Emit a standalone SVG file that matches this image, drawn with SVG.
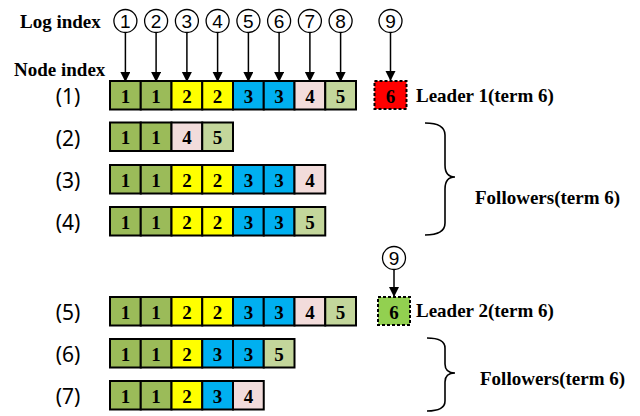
<svg xmlns="http://www.w3.org/2000/svg" width="640" height="416" viewBox="0 0 640 416">
<style>
.lbl{font-family:"Liberation Serif",serif;font-weight:bold;font-size:19px;fill:#000}
.row{font-family:"Noto Sans","Liberation Sans",sans-serif;font-size:21px;fill:#000;text-anchor:middle}
.cell{stroke:#000;stroke-width:2}
.num{font-family:"Liberation Serif",serif;font-weight:bold;font-size:19px;fill:#000;text-anchor:middle}
.c1{fill:#9BBB59}.c2{fill:#FFFF00}.c3{fill:#00B0F0}.c4{fill:#F2DCDB}.c5{fill:#C3D69B}
.circ{fill:#fff;stroke:#000;stroke-width:1.3}
.cnum{font-family:"Liberation Sans",sans-serif;font-size:19px;fill:#000;text-anchor:middle}
.arr{stroke:#000;stroke-width:1.5;fill:none}
.brace{stroke:#000;stroke-width:1.6;fill:none}
.dash{stroke:#000;stroke-width:2;stroke-dasharray:3,2}
</style>
<defs>
<marker id="ah" markerUnits="userSpaceOnUse" markerWidth="10" markerHeight="12" refX="9" refY="5" orient="auto">
<path d="M0,0 L10,5 L0,10 z" fill="#000"/>
</marker>
</defs>
<rect width="640" height="416" fill="#fff"/>
<text class="lbl" x="20" y="28">Log index</text>
<text class="lbl" x="14" y="76">Node index</text>

<g id="connectors">
<line class="arr" x1="125.4" y1="32.5" x2="125.4" y2="81" marker-end="url(#ah)"/>
<line class="arr" x1="156.1" y1="32.5" x2="156.1" y2="81" marker-end="url(#ah)"/>
<line class="arr" x1="186.9" y1="32.5" x2="186.9" y2="81" marker-end="url(#ah)"/>
<line class="arr" x1="217.6" y1="32.5" x2="217.6" y2="81" marker-end="url(#ah)"/>
<line class="arr" x1="248.4" y1="32.5" x2="248.4" y2="81" marker-end="url(#ah)"/>
<line class="arr" x1="279.1" y1="32.5" x2="279.1" y2="81" marker-end="url(#ah)"/>
<line class="arr" x1="309.9" y1="32.5" x2="309.9" y2="81" marker-end="url(#ah)"/>
<line class="arr" x1="340.6" y1="32.5" x2="340.6" y2="81" marker-end="url(#ah)"/>
<line class="arr" x1="390.5" y1="32.5" x2="390.5" y2="80" marker-end="url(#ah)"/>
<line class="arr" x1="394" y1="269.5" x2="394" y2="296" marker-end="url(#ah)"/>
<path class="brace" d="M425,123 Q445,123 445,135 L445,165 Q445,177 455,177 Q445,177 445,189 L445,223 Q445,235 425,235"/>
<path class="brace" d="M427,338 Q445,338 445,348 L445,364 Q445,373 455,373 Q445,373 445,382 L445,401 Q445,411 427,411"/>
</g>

<g id="log-index">
<circle class="circ" cx="125.4" cy="21" r="11.5"/><text class="cnum" x="125.4" y="28">1</text>
<circle class="circ" cx="156.1" cy="21" r="11.5"/><text class="cnum" x="156.1" y="28">2</text>
<circle class="circ" cx="186.9" cy="21" r="11.5"/><text class="cnum" x="186.9" y="28">3</text>
<circle class="circ" cx="217.6" cy="21" r="11.5"/><text class="cnum" x="217.6" y="28">4</text>
<circle class="circ" cx="248.4" cy="21" r="11.5"/><text class="cnum" x="248.4" y="28">5</text>
<circle class="circ" cx="279.1" cy="21" r="11.5"/><text class="cnum" x="279.1" y="28">6</text>
<circle class="circ" cx="309.9" cy="21" r="11.5"/><text class="cnum" x="309.9" y="28">7</text>
<circle class="circ" cx="340.6" cy="21" r="11.5"/><text class="cnum" x="340.6" y="28">8</text>
<circle class="circ" cx="390.5" cy="21" r="11.5"/><text class="cnum" x="390.5" y="28">9</text>
<circle class="circ" cx="394" cy="258" r="11.5"/><text class="cnum" x="394" y="265">9</text>
</g>

<g id="node1">
<text class="row" x="68" y="104">(1)</text>
<rect class="cell c1" x="110" y="81" width="30.75" height="28.5"/><text class="num" x="125.4" y="102.5">1</text>
<rect class="cell c1" x="140.75" y="81" width="30.75" height="28.5"/><text class="num" x="156.1" y="102.5">1</text>
<rect class="cell c2" x="171.5" y="81" width="30.75" height="28.5"/><text class="num" x="186.9" y="102.5">2</text>
<rect class="cell c2" x="202.25" y="81" width="30.75" height="28.5"/><text class="num" x="217.6" y="102.5">2</text>
<rect class="cell c3" x="233" y="81" width="30.75" height="28.5"/><text class="num" x="248.4" y="102.5">3</text>
<rect class="cell c3" x="263.75" y="81" width="30.75" height="28.5"/><text class="num" x="279.1" y="102.5">3</text>
<rect class="cell c4" x="294.5" y="81" width="30.75" height="28.5"/><text class="num" x="309.9" y="102.5">4</text>
<rect class="cell c5" x="325.25" y="81" width="30.75" height="28.5"/><text class="num" x="340.6" y="102.5">5</text>
<rect x="374.5" y="81" width="32" height="28" fill="#FF0000" class="dash"/><text class="num" x="390.5" y="102.5">6</text>
<text class="lbl" x="416" y="102">Leader 1(term 6)</text>
</g>

<g id="node2">
<text class="row" x="68" y="145.5">(2)</text>
<rect class="cell c1" x="110" y="122.5" width="30.75" height="28.5"/><text class="num" x="125.4" y="144">1</text>
<rect class="cell c1" x="140.75" y="122.5" width="30.75" height="28.5"/><text class="num" x="156.1" y="144">1</text>
<rect class="cell c4" x="171.5" y="122.5" width="30.75" height="28.5"/><text class="num" x="186.9" y="144">4</text>
<rect class="cell c5" x="202.25" y="122.5" width="30.75" height="28.5"/><text class="num" x="217.6" y="144">5</text>
</g>

<g id="node3">
<text class="row" x="68" y="188">(3)</text>
<rect class="cell c1" x="110" y="165" width="30.75" height="28.5"/><text class="num" x="125.4" y="186.5">1</text>
<rect class="cell c1" x="140.75" y="165" width="30.75" height="28.5"/><text class="num" x="156.1" y="186.5">1</text>
<rect class="cell c2" x="171.5" y="165" width="30.75" height="28.5"/><text class="num" x="186.9" y="186.5">2</text>
<rect class="cell c2" x="202.25" y="165" width="30.75" height="28.5"/><text class="num" x="217.6" y="186.5">2</text>
<rect class="cell c3" x="233" y="165" width="30.75" height="28.5"/><text class="num" x="248.4" y="186.5">3</text>
<rect class="cell c3" x="263.75" y="165" width="30.75" height="28.5"/><text class="num" x="279.1" y="186.5">3</text>
<rect class="cell c4" x="294.5" y="165" width="30.75" height="28.5"/><text class="num" x="309.9" y="186.5">4</text>
</g>

<g id="node4">
<text class="row" x="68" y="230">(4)</text>
<rect class="cell c1" x="110" y="207" width="30.75" height="28.5"/><text class="num" x="125.4" y="228.5">1</text>
<rect class="cell c1" x="140.75" y="207" width="30.75" height="28.5"/><text class="num" x="156.1" y="228.5">1</text>
<rect class="cell c2" x="171.5" y="207" width="30.75" height="28.5"/><text class="num" x="186.9" y="228.5">2</text>
<rect class="cell c2" x="202.25" y="207" width="30.75" height="28.5"/><text class="num" x="217.6" y="228.5">2</text>
<rect class="cell c3" x="233" y="207" width="30.75" height="28.5"/><text class="num" x="248.4" y="228.5">3</text>
<rect class="cell c3" x="263.75" y="207" width="30.75" height="28.5"/><text class="num" x="279.1" y="228.5">3</text>
<rect class="cell c5" x="294.5" y="207" width="30.75" height="28.5"/><text class="num" x="309.9" y="228.5">5</text>
</g>

<text class="lbl" x="475" y="204">Followers(term 6)</text>

<g id="node5">
<text class="row" x="68" y="320">(5)</text>
<rect class="cell c1" x="110" y="297" width="30.75" height="28.5"/><text class="num" x="125.4" y="318.5">1</text>
<rect class="cell c1" x="140.75" y="297" width="30.75" height="28.5"/><text class="num" x="156.1" y="318.5">1</text>
<rect class="cell c2" x="171.5" y="297" width="30.75" height="28.5"/><text class="num" x="186.9" y="318.5">2</text>
<rect class="cell c2" x="202.25" y="297" width="30.75" height="28.5"/><text class="num" x="217.6" y="318.5">2</text>
<rect class="cell c3" x="233" y="297" width="30.75" height="28.5"/><text class="num" x="248.4" y="318.5">3</text>
<rect class="cell c3" x="263.75" y="297" width="30.75" height="28.5"/><text class="num" x="279.1" y="318.5">3</text>
<rect class="cell c4" x="294.5" y="297" width="30.75" height="28.5"/><text class="num" x="309.9" y="318.5">4</text>
<rect class="cell c5" x="325.25" y="297" width="30.75" height="28.5"/><text class="num" x="340.6" y="318.5">5</text>
<rect x="378" y="297" width="32" height="28" fill="#92D050" class="dash"/><text class="num" x="394" y="318.5">6</text>
<text class="lbl" x="416" y="317">Leader 2(term 6)</text>
</g>

<g id="node6">
<text class="row" x="68" y="362">(6)</text>
<rect class="cell c1" x="110" y="339" width="30.75" height="28.5"/><text class="num" x="125.4" y="360.5">1</text>
<rect class="cell c1" x="140.75" y="339" width="30.75" height="28.5"/><text class="num" x="156.1" y="360.5">1</text>
<rect class="cell c2" x="171.5" y="339" width="30.75" height="28.5"/><text class="num" x="186.9" y="360.5">2</text>
<rect class="cell c3" x="202.25" y="339" width="30.75" height="28.5"/><text class="num" x="217.6" y="360.5">3</text>
<rect class="cell c3" x="233" y="339" width="30.75" height="28.5"/><text class="num" x="248.4" y="360.5">3</text>
<rect class="cell c5" x="263.75" y="339" width="30.75" height="28.5"/><text class="num" x="279.1" y="360.5">5</text>
</g>

<g id="node7">
<text class="row" x="68" y="404">(7)</text>
<rect class="cell c1" x="110" y="381" width="30.75" height="28.5"/><text class="num" x="125.4" y="402.5">1</text>
<rect class="cell c1" x="140.75" y="381" width="30.75" height="28.5"/><text class="num" x="156.1" y="402.5">1</text>
<rect class="cell c2" x="171.5" y="381" width="30.75" height="28.5"/><text class="num" x="186.9" y="402.5">2</text>
<rect class="cell c3" x="202.25" y="381" width="30.75" height="28.5"/><text class="num" x="217.6" y="402.5">3</text>
<rect class="cell c4" x="233" y="381" width="30.75" height="28.5"/><text class="num" x="248.4" y="402.5">4</text>
</g>

<text class="lbl" x="480" y="385">Followers(term 6)</text>
</svg>
